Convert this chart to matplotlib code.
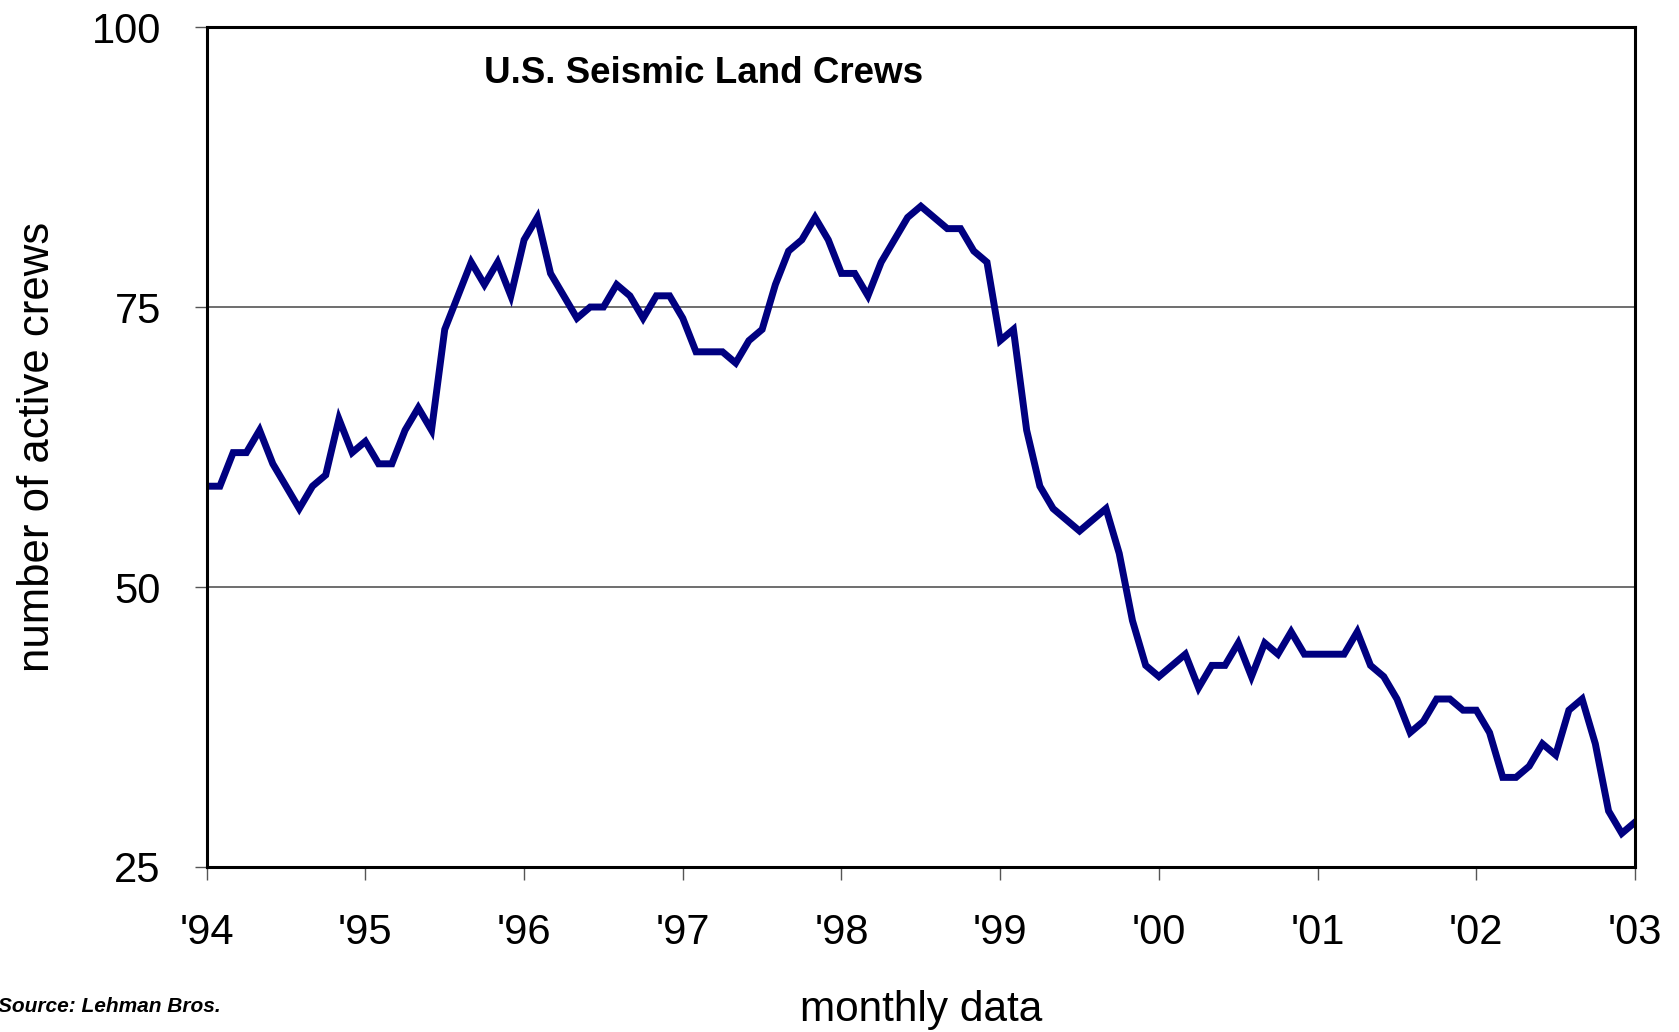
import numpy as np
from matplotlib import pyplot as plt

plt.rcParams['font.family'] = ['Liberation Sans', 'DejaVu Sans']

# monthly count of active crews, Jan 1994 .. Jan 2003
crews = [59, 59, 62, 62, 64, 61, 59, 57, 59, 60, 65, 62,
         63, 61, 61, 64, 66, 64, 73, 76, 79, 77, 79, 76,
         81, 83, 78, 76, 74, 75, 75, 77, 76, 74, 76, 76,
         74, 71, 71, 71, 70, 72, 73, 77, 80, 81, 83, 81,
         78, 78, 76, 79, 81, 83, 84, 83, 82, 82, 80, 79,
         72, 73, 64, 59, 57, 56, 55, 56, 57, 53, 47, 43,
         42, 43, 44, 41, 43, 43, 45, 42, 45, 44, 46, 44,
         44, 44, 44, 46, 43, 42, 40, 37, 38, 40, 40, 39,
         39, 37, 33, 33, 34, 36, 35, 39, 40, 36, 30, 28,
         29]
year_labels = ["'94", "'95", "'96", "'97", "'98", "'99", "'00", "'01", "'02", "'03"]
y_ticks = [25, 50, 75, 100]

months = np.arange(len(crews))

fig = plt.figure(figsize=(16.79, 10.32), dpi=100)
ax = fig.add_axes([0.1231, 0.1599, 0.8507, 0.8139])

ax.plot(months, crews, color='#000080', linewidth=5, solid_joinstyle='miter')

ax.set_xlim(0, 108)
ax.set_ylim(25, 100)
ax.set_xticks(np.arange(0, 109, 12))
ax.set_xticklabels(year_labels)
ax.set_yticks(y_ticks)

for v in [50, 75]:
    ax.axhline(v, color='#555555', linewidth=1.2, zorder=0)

for s in ax.spines.values():
    s.set_linewidth(2.2)
    s.set_color('black')

ax.tick_params(axis='both', direction='out', length=9, width=1, color='#555555',
               labelsize=30, pad=24)

ax.set_xlabel('monthly data', fontsize=30.5, labelpad=27)
ax.set_ylabel('number of active crews', fontsize=31.5, labelpad=24)

ax.text(0.348, 0.945, 'U.S. Seismic Land Crews', transform=ax.transAxes,
        ha='center', va='center', fontsize=26.5, fontweight='bold')

fig.text(-0.001, 0.025, 'Source: Lehman Bros.', ha='left', va='center',
         fontsize=15, fontweight='bold', fontstyle='italic')

fig.savefig('out.png', dpi=100)
